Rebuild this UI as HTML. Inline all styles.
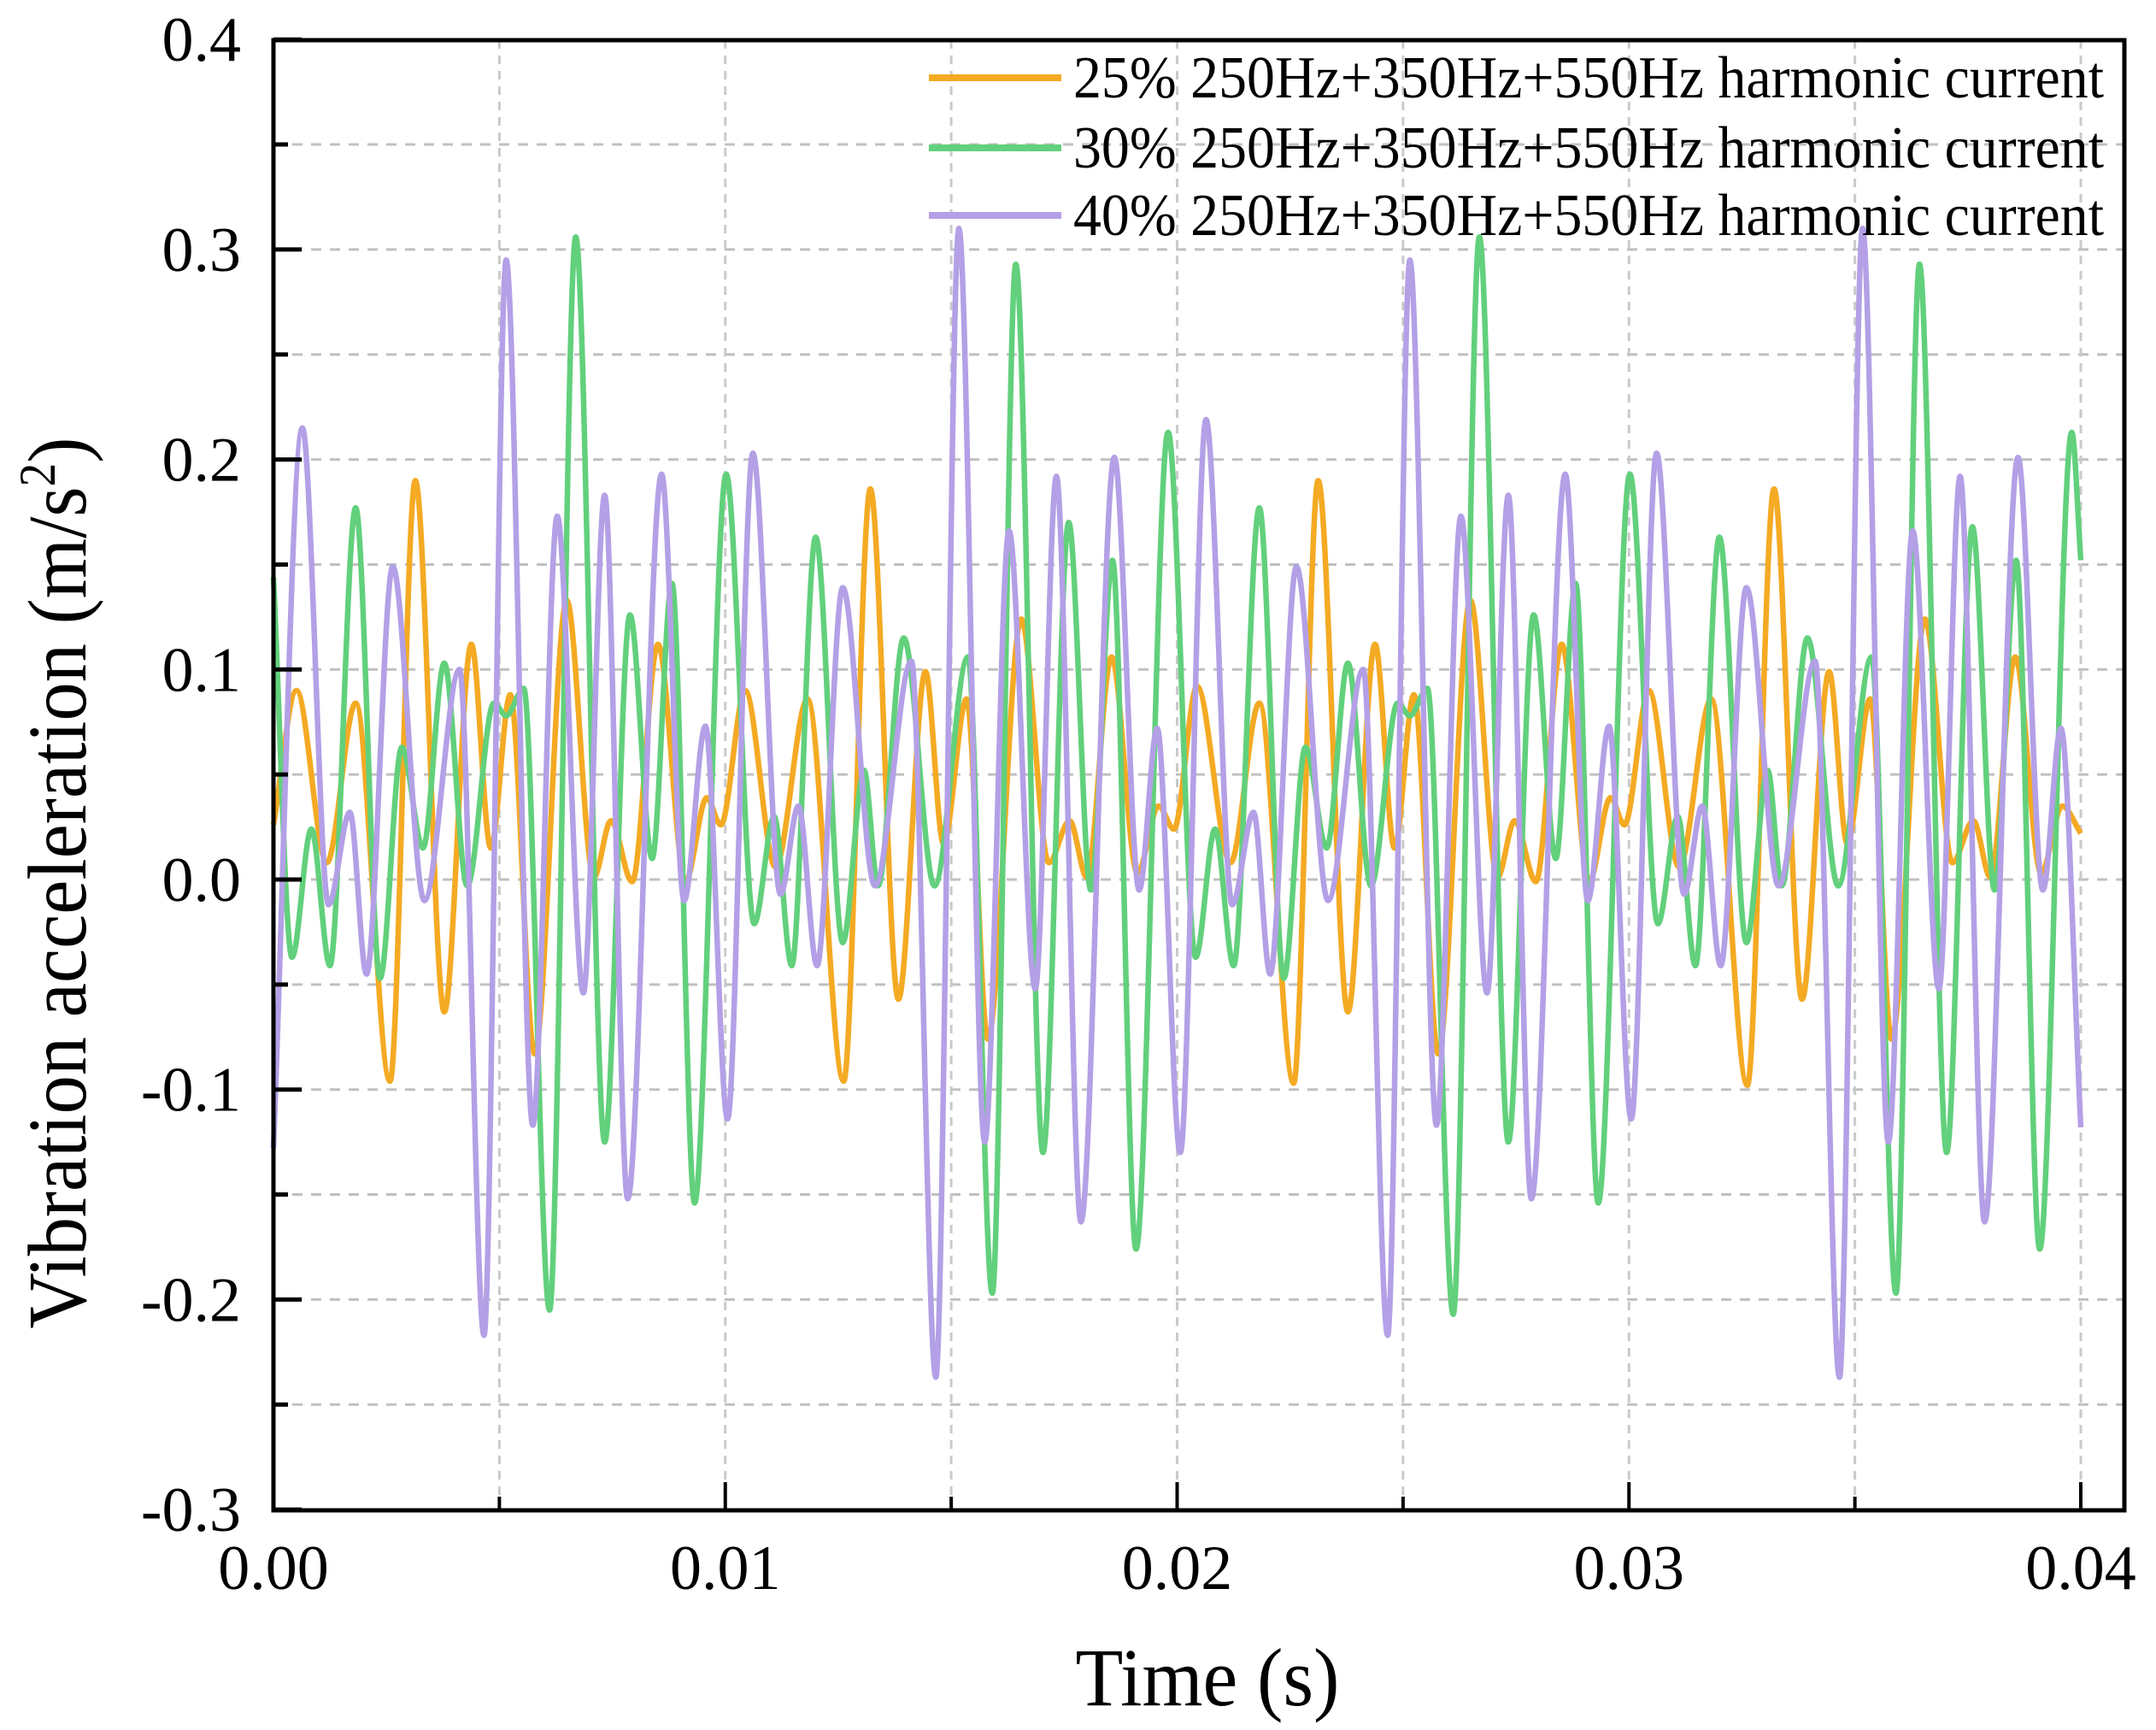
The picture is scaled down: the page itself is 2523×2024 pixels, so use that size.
<!DOCTYPE html>
<html><head><meta charset="utf-8"><style>
html,body{margin:0;padding:0;background:#fff;}
svg{display:block;}
text{font-family:"Liberation Serif",serif;fill:#000;}
</style></head><body>
<svg id="chart" width="2523" height="2024" viewBox="0 0 2523 2024" xmlns="http://www.w3.org/2000/svg">
<g id="grid"></g>
<g id="series"></g>
<g id="axes"></g>
<g id="legend"></g>
<text x="1413" y="1995" font-size="96" text-anchor="middle" textLength="309" lengthAdjust="spacingAndGlyphs">Time (s)</text>
<text x="0" y="0" font-size="98" text-anchor="middle" transform="translate(100,1033) rotate(-90)" textLength="1043" lengthAdjust="spacingAndGlyphs">Vibration acceleration (m/s<tspan font-size="60" dy="-36">2</tspan><tspan dy="36">)</tspan></text>
</svg>
<script>
// ---- data (time in ms, acceleration in m/s^2), extrema ----
const xTicks = [0, 0.01, 0.02, 0.03, 0.04];
const xTickLabels = ["0.00", "0.01", "0.02", "0.03", "0.04"];
const yTicks = [-0.3, -0.2, -0.1, 0.0, 0.1, 0.2, 0.3, 0.4];
const yTickLabels = ["-0.3", "-0.2", "-0.1", "0.0", "0.1", "0.2", "0.3", "0.4"];
const seriesNames = ["25% 250Hz+350Hz+550Hz harmonic current","30% 250Hz+350Hz+550Hz harmonic current","40% 250Hz+350Hz+550Hz harmonic current"];

const orangeT = [0,0.51,1.18,1.82,2.58,3.14,3.78,4.38,4.81,5.24,5.78,6.49,7.09,7.47,7.94,8.51,9.12,9.59,9.9,10.44,11.11,11.82,12.62,13.21,13.83,14.43,14.83,15.34,15.81,16.55,17.16,17.62,18.0,18.55,19.12,19.59,19.93,
 20.44,21.18,21.82,22.58,23.12,23.78,24.38,24.81,25.24,25.78,26.49,27.09,27.47,27.94,28.51,29.12,29.59,29.9,30.44,31.11,31.82,32.62,33.21,33.83,34.43,34.83,35.34,35.81,36.55,37.16,37.62,38.0,38.55,39.12,39.59,40.0];
const orangeV = [0.026,0.090,0.008,0.084,-0.096,0.190,-0.063,0.112,0.015,0.088,-0.083,0.133,0.001,0.028,-0.001,0.112,-0.001,0.039,0.026,0.090,0.006,0.086,-0.096,0.186,-0.057,0.099,0.017,0.086,-0.076,0.124,0.008,0.028,0.001,0.106,0.003,0.035,0.024,
 0.092,0.008,0.084,-0.097,0.190,-0.063,0.112,0.015,0.088,-0.083,0.133,0.001,0.028,-0.001,0.112,-0.001,0.039,0.026,0.090,0.006,0.086,-0.098,0.186,-0.057,0.099,0.017,0.086,-0.076,0.124,0.008,0.028,0.001,0.106,0.003,0.035,0.022];

const greenT = [0,0.41,0.84,1.25,1.82,2.36,2.84,3.31,3.78,4.29,4.88,5.15,5.54,6.11,6.69,7.33,7.89,8.38,8.82,9.32,10.02,10.64,11.08,11.47,12.0,12.6,13.07,13.38,13.95,14.63,15.37,15.91,16.43,17.03,17.6,18.09,18.57,19.09,19.8,
 20.41,20.84,21.25,21.82,22.36,22.84,23.31,23.78,24.29,24.88,25.15,25.54,26.11,26.69,27.33,27.89,28.38,28.82,29.32,30.02,30.64,31.08,31.47,32.0,32.6,33.07,33.38,33.95,34.63,35.37,35.91,36.43,37.03,37.6,38.09,38.57,39.09,39.8,40.0];
const greenV = [0.144,-0.037,0.024,-0.041,0.177,-0.047,0.063,0.015,0.103,-0.003,0.084,0.078,0.091,-0.205,0.306,-0.125,0.126,0.010,0.141,-0.154,0.193,-0.021,0.030,-0.041,0.163,-0.030,0.052,-0.003,0.115,-0.003,0.106,-0.197,0.293,-0.130,0.170,-0.005,0.152,-0.176,0.213,
 -0.037,0.024,-0.041,0.177,-0.047,0.063,0.015,0.103,-0.003,0.084,0.078,0.091,-0.207,0.306,-0.125,0.126,0.010,0.141,-0.154,0.193,-0.021,0.030,-0.041,0.163,-0.030,0.052,-0.003,0.115,-0.003,0.106,-0.197,0.293,-0.130,0.168,-0.005,0.152,-0.176,0.213,0.152];

const purpleT = [0,0.64,1.22,1.69,2.06,2.64,3.34,4.12,4.66,5.15,5.74,6.28,6.86,7.33,7.84,8.59,9.09,9.56,10.05,10.61,11.22,11.62,12.03,12.6,13.31,14.12,14.66,15.17,15.74,16.28,16.86,17.33,17.87,18.61,19.16,19.56,20.07,
 20.64,21.22,21.69,22.06,22.64,23.34,24.12,24.66,25.15,25.74,26.28,26.86,27.33,27.84,28.59,29.09,29.56,30.05,30.61,31.22,31.62,32.03,32.6,33.31,34.12,34.66,35.17,35.74,36.28,36.86,37.33,37.87,38.61,39.16,39.56,40.0];
const purpleV = [-0.128,0.215,-0.012,0.032,-0.045,0.149,-0.010,0.100,-0.217,0.295,-0.117,0.173,-0.054,0.183,-0.152,0.193,-0.010,0.073,-0.114,0.203,-0.007,0.035,-0.041,0.139,-0.003,0.104,-0.237,0.310,-0.125,0.166,-0.052,0.192,-0.163,0.201,-0.005,0.072,-0.130,
 0.219,-0.012,0.032,-0.045,0.149,-0.010,0.100,-0.217,0.295,-0.117,0.173,-0.054,0.183,-0.152,0.193,-0.010,0.073,-0.114,0.203,-0.007,0.035,-0.041,0.139,-0.003,0.104,-0.237,0.310,-0.125,0.166,-0.052,0.192,-0.163,0.201,-0.005,0.072,-0.118];

// ---- layout ----
const L = 320, R = 2486, T = 47, B = 1767;
const X0 = 320, X1 = 2435; // 0 s and 0.04 s
function xs(t){ return X0 + (t/0.04)*(X1-X0); }           // t in seconds
function ys(v){ return 1029 - v/0.1*245.7; }
const NS = 'http://www.w3.org/2000/svg';
function mk(tag, attrs, parent){ const e=document.createElementNS(NS,tag); for(const k in attrs) e.setAttribute(k,attrs[k]); parent.appendChild(e); return e; }

const grid = document.getElementById('grid');
const axes = document.getElementById('axes');
const seriesG = document.getElementById('series');
const legend = document.getElementById('legend');

// grid
for(let i=1;i<14;i++){
  const v = -0.3 + i*0.05;
  const g = mk('line',{x1:L,x2:R,y1:ys(v),y2:ys(v),stroke:'#c0c0c0','stroke-width':3,'stroke-dasharray':'12 10'},grid);
  
  
}
for(let i=1;i<9;i++){
  const t = i*0.005;
  const g = mk('line',{x1:xs(t),x2:xs(t),y1:T,y2:B,stroke:'#cacaca','stroke-width':3,'stroke-dasharray':'10 8'},grid);
  
  
}

// monotone cubic interpolation through extrema
function buildPath(tArr, vArr){
  const n = tArr.length, xsA = tArr.map(t=>t/1000), m = new Array(n).fill(0);
  const d = [];
  for(let i=0;i<n-1;i++) d.push((vArr[i+1]-vArr[i])/(xsA[i+1]-xsA[i]));
  m[0]=d[0]; m[n-1]=d[n-2];
  for(let i=1;i<n-1;i++){ m[i] = (d[i-1]*d[i] <= 0) ? 0 : 2/(1/d[i-1]+1/d[i]); }
  let p = 'M'+xs(xsA[0]).toFixed(1)+','+ys(vArr[0]).toFixed(1);
  for(let i=0;i<n-1;i++){
    const h = xsA[i+1]-xsA[i];
    const c1x = xsA[i]+h/3, c1y = vArr[i]+m[i]*h/3;
    const c2x = xsA[i+1]-h/3, c2y = vArr[i+1]-m[i+1]*h/3;
    p += ' C'+xs(c1x).toFixed(1)+','+ys(c1y).toFixed(1)+' '+xs(c2x).toFixed(1)+','+ys(c2y).toFixed(1)+' '+xs(xsA[i+1]).toFixed(1)+','+ys(vArr[i+1]).toFixed(1);
  }
  return p;
}
const colors = ['#f4aa23','#62d07c','#b3a0e6'];
const sNames = ['series-25-percent','series-30-percent','series-40-percent'];
const data = [[orangeT,orangeV],[greenT,greenV],[purpleT,purpleV]];
for(let s=0;s<3;s++){
  const p = mk('path',{d:buildPath(data[s][0],data[s][1]),fill:'none',stroke:colors[s],'stroke-width':6.5,'stroke-linejoin':'round'},seriesG);
  
  
}

// axes box
const box = mk('rect',{x:L,y:T,width:R-L,height:B-T,fill:'none',stroke:'#000','stroke-width':5},axes);



// y ticks
for(let i=0;i<yTicks.length;i++){
  const y = ys(yTicks[i]);
  const tk = mk('line',{x1:L,x2:L+33,y1:y,y2:y,stroke:'#000','stroke-width':5},axes);
  
  
  const lb = mk('text',{x:282,y:y+25,'font-size':74,'text-anchor':'end'},axes);
  lb.textContent = yTickLabels[i];
  
  
  if(i<yTicks.length-1){
    const ym = ys(yTicks[i]+0.05);
    const mt = mk('line',{x1:L,x2:L+17,y1:ym,y2:ym,stroke:'#000','stroke-width':5},axes);
    
    
  }
}
// x ticks
for(let i=0;i<xTicks.length;i++){
  const x = xs(xTicks[i]);
  const tk = mk('line',{x1:x,x2:x,y1:B,y2:B-33,stroke:'#000','stroke-width':4},axes);
  
  
  const lb = mk('text',{x:x,y:1859,'font-size':74,'text-anchor':'middle'},axes);
  lb.textContent = xTickLabels[i];
  
  
  if(i<xTicks.length-1){
    const xm = xs(xTicks[i]+0.005);
    const mt = mk('line',{x1:xm,x2:xm,y1:B,y2:B-16,stroke:'#000','stroke-width':4},axes);
    
    
  }
}

// legend
const rowY = [91,173,252];
for(let s=0;s<3;s++){
  const ln = mk('line',{x1:1087,x2:1242,y1:rowY[s],y2:rowY[s],stroke:colors[s],'stroke-width':8},legend);
  
  
  const tx = mk('text',{x:1256,y:rowY[s]+23,'font-size':70,textLength:1206,lengthAdjust:'spacingAndGlyphs'},legend);
  tx.textContent = seriesNames[s];
  
  
}
</script>
</body></html>
